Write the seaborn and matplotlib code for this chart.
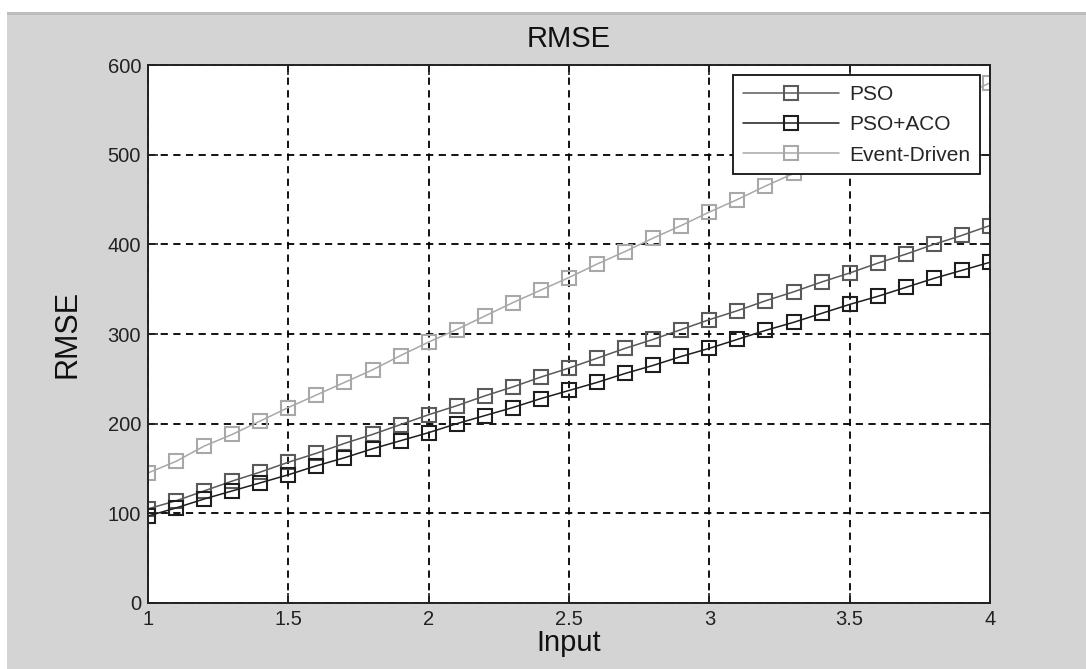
"""
RMSE 비교 그래프 (PSO / PSO+ACO / Event-Driven)
"""
import numpy as np
import pandas as pd
import matplotlib
matplotlib.use('Agg')
import matplotlib.pyplot as plt
from matplotlib.patches import Rectangle
from matplotlib.ticker import FormatStrFormatter
import seaborn as sns

# 입력값 (1 ~ 4, 0.1 간격)
inputs = [1.0, 1.1, 1.2, 1.3, 1.4, 1.5, 1.6, 1.7, 1.8, 1.9, 2.0,
          2.1, 2.2, 2.3, 2.4, 2.5, 2.6, 2.7, 2.8, 2.9, 3.0,
          3.1, 3.2, 3.3, 3.4, 3.5, 3.6, 3.7, 3.8, 3.9, 4.0]

pso = [105, 114, 125, 136, 146, 157, 167, 178, 188, 199, 210,
       220, 231, 241, 252, 262, 273, 284, 294, 305, 316,
       326, 337, 347, 358, 368, 379, 389, 400, 410, 421]

pso_aco = [97, 106, 116, 125, 134, 143, 153, 162, 172, 181, 190,
           200, 209, 218, 228, 237, 246, 256, 265, 275, 284,
           294, 304, 313, 323, 333, 342, 352, 362, 371, 380]

event_driven = [145, 158, 175, 188, 203, 218, 232, 246, 260, 276, 291,
                305, 320, 335, 349, 363, 378, 392, 407, 421, 436,
                450, 465, 479, 494, 508, 522, 537, 551, 566, 580]

series_names = ['PSO', 'PSO+ACO', 'Event-Driven']
series_colors = ['#5a5a5a', '#1e1e1e', '#a8a8a8']

x_ticks = [1, 1.5, 2, 2.5, 3, 3.5, 4]
y_ticks = [0, 100, 200, 300, 400, 500, 600]

df = pd.DataFrame({'Input': inputs, 'PSO': pso,
                   'PSO+ACO': pso_aco, 'Event-Driven': event_driven})
long_df = df.melt(id_vars='Input', var_name='방법', value_name='RMSE')

sns.set_style('white')
plt.rcParams['font.family'] = ['Liberation Sans', 'DejaVu Sans']

fig = plt.figure(figsize=(10.86, 6.69), dpi=100, facecolor='#d4d4d4')
# 위쪽/왼쪽 흰 여백 + 회색 선
fig.patches.append(Rectangle((0, 1 - 12 / 669), 1, 12 / 669, transform=fig.transFigure,
                             facecolor='white', edgecolor='none', zorder=-1))
fig.patches.append(Rectangle((0, 1 - 15 / 669), 1, 3 / 669, transform=fig.transFigure,
                             facecolor='#bdbdbd', edgecolor='none', zorder=-1))
fig.patches.append(Rectangle((0, 0), 7 / 1086, 1, transform=fig.transFigure,
                             facecolor='white', edgecolor='none', zorder=-1))

ax = fig.add_axes([148 / 1086, 1 - 603 / 669, 842 / 1086, 538 / 669])
ax.set_facecolor('white')

for name, color in zip(series_names, series_colors):
    sub = long_df[long_df['방법'] == name]
    sns.lineplot(data=sub, x='Input', y='RMSE', ax=ax, color=color, label=name,
                 marker='s', markersize=10.5, mfc='none', mec=color, mew=1.5,
                 linewidth=1.1)

ax.set_xlim(1, 4)
ax.set_ylim(0, 600)
ax.set_xticks(x_ticks)
ax.set_yticks(y_ticks)
ax.xaxis.set_major_formatter(FormatStrFormatter('%g'))

ax.grid(True, color='black', linestyle=(0, (4, 3)), linewidth=1.3)
ax.set_axisbelow(True)
for sp in ax.spines.values():
    sp.set_visible(True)
    sp.set_color('#222222')
    sp.set_linewidth(1.4)

ax.tick_params(direction='in', length=7, width=1.2, labelsize=14.5,
               colors='#222222', pad=5, top=True, right=True,
               bottom=True, left=True)

ax.set_title('RMSE', fontsize=21, pad=13, color='#111111')
ax.set_xlabel('Input', fontsize=21, labelpad=0, color='#111111')
ax.set_ylabel('RMSE', fontsize=22, labelpad=18, color='#111111')

leg = ax.legend(loc='upper right', fontsize=15, frameon=True, fancybox=False,
                edgecolor='#111111', framealpha=1, handlelength=4.6,
                borderaxespad=0.5, labelspacing=0.55, borderpad=0.45,
                handletextpad=0.5)
leg.get_frame().set_linewidth(1.3)

fig.savefig('out.png', dpi=100, facecolor=fig.get_facecolor())
